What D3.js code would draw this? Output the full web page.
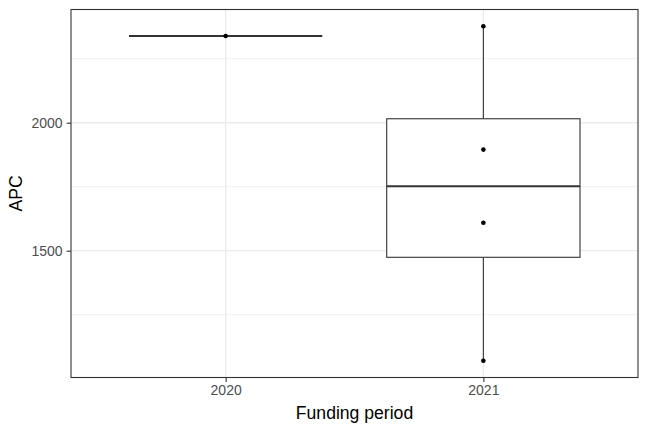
<!DOCTYPE html>
<html><head><meta charset="utf-8">
<script src="https://cdn.jsdelivr.net/npm/d3@7"></script>
<style>body{margin:0;background:#fff}svg{display:block}text{font-family:"Liberation Sans",Arial,sans-serif}</style>
</head><body>
<svg id="c" width="648" height="432"></svg>
<script>
const categories = ["2020", "2021"];
const values2020 = [2339];
const values2021 = [2377, 1895, 1609, 1070];
const yMajorTicks = [1500, 2000];
const yMinorTicks = [1250, 1750, 2250];
const xLabel = "Funding period";
const yLabel = "APC";

const seriesByCat = {"2020": values2020, "2021": values2021};
const W = 648, H = 432;
const m = {l: 71, r: 10, t: 9.5, b: 54.5};
const svg = d3.select("#c");
const pw = W - m.l - m.r, ph = H - m.t - m.b;

const all = values2020.concat(values2021);
const [mn, mx] = d3.extent(all);
const pad = (mx - mn) * 0.05;
const y = d3.scaleLinear().domain([mn - pad, mx + pad]).range([m.t + ph, m.t]);
const x = d3.scalePoint().domain(categories).range([m.l, m.l + pw]).padding(0.6);
const step = x.step();
const boxW = step * 0.75;

// background
svg.append("rect").attr("x", m.l).attr("y", m.t).attr("width", pw).attr("height", ph).attr("fill", "#fff");
// grid
const g = svg.append("g");
g.selectAll(".ymin").data(yMinorTicks).join("line")
  .attr("x1", m.l).attr("x2", m.l + pw).attr("y1", d => y(d)).attr("y2", d => y(d))
  .attr("stroke", "#ebebeb").attr("stroke-width", 0.7);
g.selectAll(".ymaj").data(yMajorTicks).join("line")
  .attr("x1", m.l).attr("x2", m.l + pw).attr("y1", d => y(d)).attr("y2", d => y(d))
  .attr("stroke", "#ebebeb").attr("stroke-width", 1.3);
g.selectAll(".xmaj").data(categories).join("line")
  .attr("x1", d => x(d)).attr("x2", d => x(d)).attr("y1", m.t).attr("y2", m.t + ph)
  .attr("stroke", "#ebebeb").attr("stroke-width", 1.3);

// boxplots
categories.forEach(c => {
  const v = seriesByCat[c].slice().sort(d3.ascending);
  const q1 = d3.quantile(v, 0.25), med = d3.quantile(v, 0.5), q3 = d3.quantile(v, 0.75);
  const iqr = q3 - q1;
  const lo = d3.min(v.filter(d => d >= q1 - 1.5 * iqr));
  const hi = d3.max(v.filter(d => d <= q3 + 1.5 * iqr));
  const cx = x(c);
  const bg = svg.append("g");
  bg.append("line").attr("x1", cx).attr("x2", cx).attr("y1", y(hi)).attr("y2", y(q3))
    .attr("stroke", "#333").attr("stroke-width", 1.1);
  bg.append("line").attr("x1", cx).attr("x2", cx).attr("y1", y(q1)).attr("y2", y(lo))
    .attr("stroke", "#333").attr("stroke-width", 1.1);
  bg.append("rect").attr("x", cx - boxW / 2).attr("width", boxW)
    .attr("y", y(q3)).attr("height", Math.max(0, y(q1) - y(q3)))
    .attr("fill", "#fff").attr("stroke", "#333").attr("stroke-width", 1.1);
  bg.append("line").attr("x1", cx - boxW / 2).attr("x2", cx + boxW / 2).attr("y1", y(med)).attr("y2", y(med))
    .attr("stroke", "#333").attr("stroke-width", 2.1);
  bg.selectAll("circle").data(v).join("circle")
    .attr("cx", cx).attr("cy", d => y(d)).attr("r", 2.3).attr("fill", "#000");
});

// panel border
svg.append("rect").attr("x", m.l).attr("y", m.t).attr("width", pw).attr("height", ph)
  .attr("fill", "none").attr("stroke", "#333").attr("stroke-width", 1.1);

// axes
const ya = svg.append("g").attr("transform", `translate(${m.l},0)`)
  .call(d3.axisLeft(y).tickValues(yMajorTicks).tickSize(4.4).tickPadding(4).tickFormat(d3.format("d")));
const xa = svg.append("g").attr("transform", `translate(0,${m.t + ph})`)
  .call(d3.axisBottom(x).tickSize(4.4).tickPadding(3));
[ya, xa].forEach(a => {
  a.select(".domain").remove();
  a.selectAll(".tick line").attr("stroke", "#333").attr("stroke-width", 1.1);
  a.selectAll(".tick text").attr("fill", "#4d4d4d").attr("font-size", 14).attr("font-family", "Liberation Sans, Arial, sans-serif");
});

svg.append("text").attr("x", m.l + pw / 2).attr("y", 419).attr("text-anchor", "middle")
  .attr("font-size", 17.6).attr("fill", "#000").text(xLabel);
svg.append("text").attr("transform", `translate(22,${m.t + ph / 2}) rotate(-90)`).attr("text-anchor", "middle")
  .attr("font-size", 17.6).attr("fill", "#000").text(yLabel);
</script>
</body></html>
